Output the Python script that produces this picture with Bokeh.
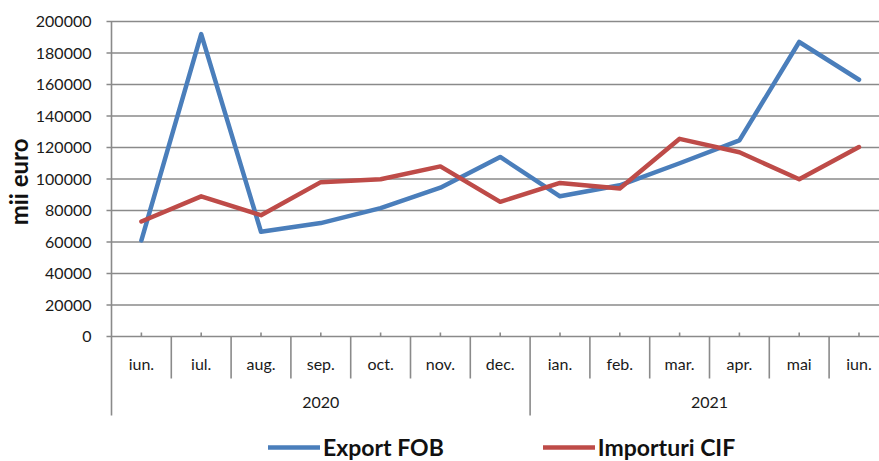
import math
from bokeh.plotting import figure
from bokeh.models import Range1d, FixedTicker, Legend, LegendItem, Title, NumeralTickFormatter
from bokeh.embed import file_html
from bokeh.resources import INLINE
from bokeh.core.properties import value

# ---------------- data ----------------
months = ["iun.", "iul.", "aug.", "sep.", "oct.", "nov.", "dec.",
          "ian.", "feb.", "mar.", "apr.", "mai", "iun."]
years = ["2020", "2021"]
year_spans = [7, 6]
export_fob = [61000, 192000, 66500, 72000, 81500, 94500, 114000,
              89000, 96000, 110000, 124500, 187000, 163000]
import_cif = [73000, 89000, 77000, 98000, 99800, 108000, 85500,
              97500, 94000, 125500, 117000, 99800, 120300]
y_ticks = list(range(0, 200001, 20000))

# ---------------- layout (picture pixels) ----------------
W, H = 879, 461
AX_X = 111          # x of the value axis line
CAT_W = 59.8        # width of one category
FRAME_L = 102
FRAME_T = 15
Y0, YTOP = 336, 21  # y of 0 and of 200000
K = (Y0 - YTOP) / 200000.0


def py(page_y):
    return (Y0 - page_y) / K


x_start = (FRAME_L - AX_X) / CAT_W
x_end = (W - AX_X) / CAT_W
y_end = 200000 + (YTOP - FRAME_T) / K
y_start = py(H)

FONT = "Lato"
GRID = "#8a8a8a"
TXT = "#1a1a1a"

p = figure(width=W, height=H,
           x_range=Range1d(x_start, x_end), y_range=Range1d(y_start, y_end),
           min_border_left=FRAME_L, min_border_right=0,
           min_border_top=FRAME_T, min_border_bottom=0,
           x_axis_location=None, y_axis_location="left",
           output_backend="svg", toolbar_location=None, title=None)
p.outline_line_color = None
p.grid.visible = False
p.background_fill_color = "white"
p.border_fill_color = "white"

ya = p.yaxis[0]
ya.ticker = FixedTicker(ticks=y_ticks)
ya.formatter = NumeralTickFormatter(format="0")
ya.major_tick_in = 0
ya.major_tick_out = 0
ya.minor_tick_in = 0
ya.minor_tick_out = 0
ya.axis_line_color = None
ya.major_label_standoff = 11
ya.major_label_text_font = FONT
ya.major_label_text_font_size = "16px"
ya.major_label_text_color = TXT

centers = [i + 0.5 for i in range(len(months))]
tick_px = 5

# horizontal grid lines (include the small tick left of axis)
p.segment(x0=[-tick_px / CAT_W] * len(y_ticks), x1=[14] * len(y_ticks),
          y0=y_ticks, y1=y_ticks, line_color=GRID, line_width=1.6)

# value axis line, extending down to the bottom of the year row
p.segment(x0=[0], x1=[0], y0=[200000], y1=[py(415)], line_color=GRID, line_width=1.6)

# category boundaries
year_bounds = [0]
for s in year_spans:
    year_bounds.append(year_bounds[-1] + s)
month_b = [i for i in range(1, len(months) + 1) if i not in year_bounds]
p.segment(x0=month_b, x1=month_b, y0=[0] * len(month_b), y1=[py(378)] * len(month_b),
          line_color=GRID, line_width=1.6)
yb = year_bounds[1:]
p.segment(x0=yb, x1=yb, y0=[0] * len(yb), y1=[py(415)] * len(yb),
          line_color=GRID, line_width=1.6)

# small tick marks at category centres (above the axis)
p.segment(x0=centers, x1=centers, y0=[0] * len(centers), y1=[4 / K] * len(centers),
          line_color=GRID, line_width=1.6)

# category labels
p.text(x=centers, y=[py(363)] * len(centers), text=months,
       text_align="center", text_baseline="middle",
       text_font=value(FONT), text_font_size="16px", text_color=TXT)
year_centers = [(year_bounds[i] + year_bounds[i + 1]) / 2 for i in range(len(years))]
p.text(x=year_centers, y=[py(402)] * len(years), text=years,
       text_align="center", text_baseline="middle",
       text_font=value(FONT), text_font_size="16px", text_color=TXT)

# series
r1 = p.line(centers, export_fob, line_color="#4A7EBB", line_width=4.5,
            line_join="round", line_cap="round")
r2 = p.line(centers, import_cif, line_color="#BE4B48", line_width=4.5,
            line_join="round", line_cap="round")

legend = Legend(items=[LegendItem(label="Export FOB", renderers=[r1]),
                       LegendItem(label="Importuri CIF", renderers=[r2])],
                orientation="horizontal", location=(166, 0),
                glyph_width=52, glyph_height=22, label_height=22,
                label_text_font=FONT, label_text_font_size="23px",
                label_text_font_style="bold", label_text_color="#111111",
                label_standoff=3, spacing=99, padding=0, margin=0,
                border_line_color=None, background_fill_alpha=0)
p.add_layout(legend)

# vertical axis title: its top end sits 123 px below the top of the plot area
p.add_layout(Title(text="mii euro", align="right", offset=123,
                   text_font=FONT, text_font_size="24px", text_font_style="bold",
                   text_color="#111111", standoff=0), "left")

open("out.html", "w").write(file_html(p, INLINE))
